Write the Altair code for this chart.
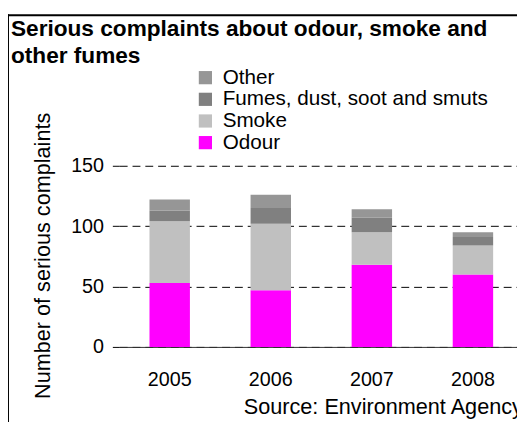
import altair as alt
import pandas as pd

years = ["2005", "2006", "2007", "2008"]
odour = [53, 47, 68, 60]
smoke = [51, 55, 27, 24]
fumes = [9, 13, 12, 7]
other = [9, 11, 7, 4]

categories = ["Other", "Fumes, dust, soot and smuts", "Smoke", "Odour"]
colors = ["#969696", "#808080", "#C0C0C0", "#FF00FF"]
stack_rank = {"Odour": 0, "Smoke": 1, "Fumes, dust, soot and smuts": 2, "Other": 3}
y_ticks = [0, 50, 100, 150]

series = {"Odour": odour, "Smoke": smoke, "Fumes, dust, soot and smuts": fumes, "Other": other}
rows = []
for i, yr in enumerate(years):
    for cat, vals in series.items():
        rows.append({"Year": yr, "Type": cat, "Complaints": vals[i], "rank": stack_rank[cat]})
df = pd.DataFrame(rows)

FONT = "Liberation Sans"

one = pd.DataFrame({"b": [0]})
border_left = alt.Chart(one).mark_rect(color="black").encode(
    x=alt.value(-113), x2=alt.value(-112), y=alt.value(-154), y2=alt.value(300)
)
border_top = alt.Chart(one).mark_rect(color="black").encode(
    x=alt.value(-113), x2=alt.value(404), y=alt.value(-154), y2=alt.value(-152)
)

bars = alt.Chart(df).mark_bar().encode(
    x=alt.X(
        "Year:N",
        scale=alt.Scale(paddingInner=0.6, paddingOuter=0.2675, align=0.559, round=False),
        axis=alt.Axis(
            title="Source: Environment Agency", labelAngle=0, ticks=False, tickSize=0,
            labelPadding=23, labelFontSize=20, domainColor="#333333", grid=False,
            titleFontSize=22, titleFontWeight="normal", titleAlign="left",
            titleAnchor="start", titleX=126, titleY=61, titleBaseline="middle",
        ),
    ),
    y=alt.Y(
        "Complaints:Q",
        stack="zero",
        scale=alt.Scale(domain=[0, 150]),
        axis=alt.Axis(
            values=y_ticks, title="Number of serious complaints", grid=True,
            gridDash=[8, 5], gridColor="#000000", domain=False, tickSize=7,
            tickColor="#000000", labelPadding=9, labelFontSize=20,
            titleFontSize=22, titleFontWeight="normal", titleX=-78, titleY=91,
            titleAngle=-90, titleAlign="center", titleBaseline="middle",
        ),
    ),
    color=alt.Color(
        "Type:N",
        scale=alt.Scale(domain=categories, range=colors),
        legend=alt.Legend(
            title=None, orient="none", legendX=77, legendY=-100, symbolType="square",
            symbolSize=180, labelFontSize=21, rowPadding=0, padding=0,
            symbolStrokeWidth=0, labelOffset=7, labelLimit=0,
        ),
    ),
    order=alt.Order("rank:Q", sort="ascending"),
)

chart = alt.layer(border_left, border_top, bars).properties(
    width=404,
    height=184,
    autosize="none",
    padding={"left": 113, "top": 157, "right": 0, "bottom": 73},
    title=alt.TitleParams(
        text=["Serious complaints about odour, smoke and", "other fumes"],
        anchor="start", frame="group", dx=-110, dy=59, fontSize=23, fontWeight="bold",
        font=FONT, color="black", lineHeight=28,
    ),
).configure_axis(
    labelFont=FONT, titleFont=FONT, labelColor="black", titleColor="black"
).configure_legend(
    labelFont=FONT, labelColor="black"
).configure_view(
    stroke="transparent"
)

chart.save("out.html", embed_options={"renderer": "svg", "actions": False})
